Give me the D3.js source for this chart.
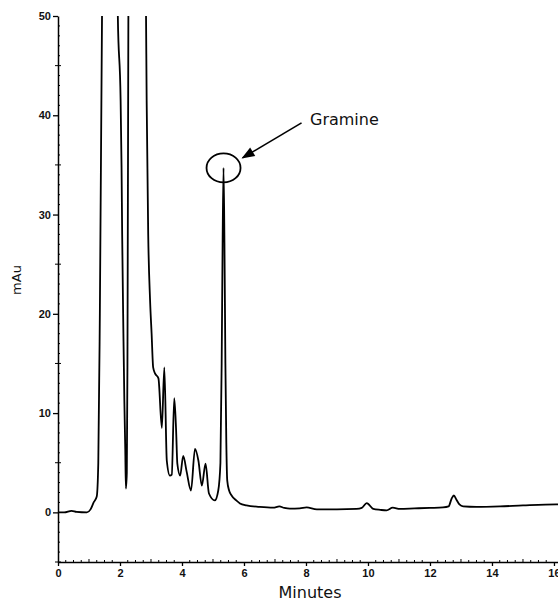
<!DOCTYPE html>
<html>
<head>
<meta charset="utf-8">
<script src="https://cdn.jsdelivr.net/npm/d3@7"></script>
<style>
  body { margin: 0; background: #fff; }
  svg { display: block; }
</style>
</head>
<body>
<div class="canvas"></div>
<script>
// chromatogram trace (minutes, mAU); apexes above 50 are off-scale
const minutes = [0, 0.2, 0.44, 0.6, 0.93, 1.05, 1.15, 1.25, 1.3, 1.35, 1.42, 1.5, 1.7, 1.85, 1.93, 2.02, 2.05, 2.07, 2.11, 2.14, 2.17, 2.19, 2.22, 2.24, 2.27, 2.4, 2.6, 2.78, 2.84, 2.86, 2.91, 2.97, 3.02, 3.07, 3.13, 3.24, 3.35, 3.43, 3.51, 3.61, 3.67, 3.75, 3.81, 3.85, 3.94, 4.04, 4.15, 4.29, 4.42, 4.53, 4.64, 4.76, 4.87, 5.06, 5.17, 5.24, 5.28, 5.31, 5.34, 5.37, 5.40, 5.43, 5.46, 5.52, 5.60, 5.75, 5.87, 6.08, 6.5, 6.94, 7.14, 7.3, 7.48, 7.8, 8.02, 8.35, 9.0, 9.63, 9.8, 9.96, 10.17, 10.4, 10.6, 10.8, 11.03, 11.5, 12.0, 12.42, 12.6, 12.7, 12.77, 12.85, 12.95, 13.07, 13.5, 14.26, 15.0, 16.08, 16.2];
const mau = [0, 0, 0.16, 0.05, 0, 0.3, 1.0, 1.6, 5, 20, 50, 110, 150, 100, 50, 41.5, 34.8, 28, 18, 11.3, 6.3, 2.4, 4, 14.6, 50, 160, 140, 70, 50, 41.5, 28, 21.4, 18, 14.6, 14.0, 13.5, 8.5, 14.6, 5.2, 3.7, 3.8, 11.5, 8.3, 4.9, 3.7, 5.7, 4.1, 2.2, 6.4, 5.2, 2.7, 4.9, 1.9, 1.2, 2.2, 5, 15, 27, 34.7, 27, 15, 7, 3.2, 2.2, 1.7, 1.2, 0.9, 0.7, 0.55, 0.47, 0.6, 0.45, 0.37, 0.4, 0.5, 0.3, 0.3, 0.35, 0.45, 0.94, 0.35, 0.25, 0.2, 0.47, 0.35, 0.4, 0.45, 0.5, 0.6, 1.4, 1.7, 1.3, 0.8, 0.6, 0.55, 0.6, 0.7, 0.8, 0.8];

const xTicks = [0, 2, 4, 6, 8, 10, 12, 14, 16];
const yTicks = [0, 10, 20, 30, 40, 50];
const peakName = "Gramine";
const peakTime = 5.34;
const peakValue = 34.7;

const width = 558;
const height = 604;
const margin = ({ top: 16, right: 0, bottom: 42, left: 58 });

const data = minutes.map((t, i) => ({ t: t, v: mau[i] }));

const x = d3.scaleLinear().domain([0, 16.13]).range([margin.left, width - margin.right]);
const y = d3.scaleLinear().domain([-5, 50]).range([height - margin.bottom, margin.top]);

const svg = d3.select('.canvas')
  .append('svg')
  .attr('width', width)
  .attr('height', height)
  .style('font-family', '"DejaVu Sans", Verdana, sans-serif');

svg.append('clipPath').attr('id', 'plot')
  .append('rect')
  .attr('x', margin.left).attr('y', margin.top)
  .attr('width', width - margin.left - margin.right)
  .attr('height', height - margin.top - margin.bottom);

// x axis: major ticks out, minor every 0.25 min pointing in
const xAxis = svg.append('g').attr('transform', `translate(0,${y(-5)})`);
xAxis.call(d3.axisBottom(x).tickValues(xTicks).tickSize(4).tickPadding(3).tickSizeOuter(0))
  .call(g => g.select('.domain').attr('stroke-width', 1.5))
  .call(g => g.selectAll('.tick line').attr('stroke-width', 1.3))
  .call(g => g.selectAll('.tick text').attr('font-size', 11).attr('font-weight', 'bold').attr('fill', '#111'));
xAxis.selectAll('line.minor')
  .data(d3.range(0, 16.01, 0.25).filter(d => d % 2 !== 0))
  .join('line')
  .attr('class', 'minor')
  .attr('x1', d => x(d)).attr('x2', d => x(d))
  .attr('y1', 0).attr('y2', d => d % 1 === 0 ? -3 : -2)
  .attr('stroke', '#000');

// y axis: major ticks out, minor every 1 mAU pointing in
const yAxis = svg.append('g').attr('transform', `translate(${margin.left},0)`);
yAxis.call(d3.axisLeft(y).tickValues(yTicks).tickSize(5).tickPadding(2).tickSizeOuter(0))
  .call(g => g.select('.domain').attr('stroke-width', 1.5))
  .call(g => g.selectAll('.tick line').attr('stroke-width', 1.3))
  .call(g => g.selectAll('.tick text').attr('font-size', 11).attr('font-weight', 'bold').attr('fill', '#111'));
yAxis.selectAll('line.minor')
  .data(d3.range(-5, 50, 1).filter(d => d % 10 !== 0))
  .join('line')
  .attr('class', 'minor')
  .attr('x1', d => d % 5 === 0 ? -3 : 0).attr('x2', d => d % 5 === 0 ? 3 : 2)
  .attr('y1', d => y(d)).attr('y2', d => y(d))
  .attr('stroke', '#000');

// axis titles
svg.append('text')
  .attr('x', 310).attr('y', 598)
  .attr('text-anchor', 'middle')
  .attr('font-size', 16)
  .attr('fill', '#111')
  .text('Minutes');
svg.append('text')
  .attr('transform', 'translate(21,280) rotate(-90)')
  .attr('text-anchor', 'middle')
  .attr('font-size', 13)
  .attr('fill', '#111')
  .text('mAu');

// trace
const line = d3.line().x(d => x(d.t)).y(d => y(d.v)).curve(d3.curveMonotoneX);
svg.append('path')
  .datum(data)
  .attr('clip-path', 'url(#plot)')
  .attr('fill', 'none')
  .attr('stroke', '#000')
  .attr('stroke-width', 1.8)
  .attr('stroke-linejoin', 'round')
  .attr('d', line);

// annotation: circle round the peak, arrow and label
const cx = x(peakTime), cy = y(peakValue);
svg.append('ellipse')
  .attr('cx', cx).attr('cy', cy)
  .attr('rx', 17).attr('ry', 14.5)
  .attr('fill', 'none')
  .attr('stroke', '#000')
  .attr('stroke-width', 1.8);

svg.append('defs').append('marker')
  .attr('id', 'arrow')
  .attr('viewBox', '0 0 10 10')
  .attr('refX', 9).attr('refY', 5)
  .attr('markerWidth', 6).attr('markerHeight', 6)
  .attr('markerUnits', 'userSpaceOnUse')
  .attr('orient', 'auto')
  .append('path')
  .attr('d', 'M0,0L10,5L0,10z')
  .attr('fill', '#000');
svg.append('line')
  .attr('x1', cx + 78).attr('y1', cy - 45)
  .attr('x2', cx + 19).attr('y2', cy - 10)
  .attr('stroke', '#000')
  .attr('stroke-width', 1.6);
svg.append('path')
  .attr('d', () => {
    const tx = cx + 18, ty = cy - 9.5;
    const ang = Math.atan2(-35, 59);
    const L = 13, W = 5;
    const bx = tx + L * Math.cos(ang), by = ty + L * Math.sin(ang);
    const px = -Math.sin(ang) * W, py = Math.cos(ang) * W;
    return `M${tx},${ty}L${bx + px},${by + py}L${bx - px},${by - py}Z`;
  })
  .attr('fill', '#000');

svg.append('text')
  .attr('x', 310).attr('y', 125)
  .attr('font-size', 16)
  .attr('fill', '#111')
  .text(peakName);
</script>
</body>
</html>
